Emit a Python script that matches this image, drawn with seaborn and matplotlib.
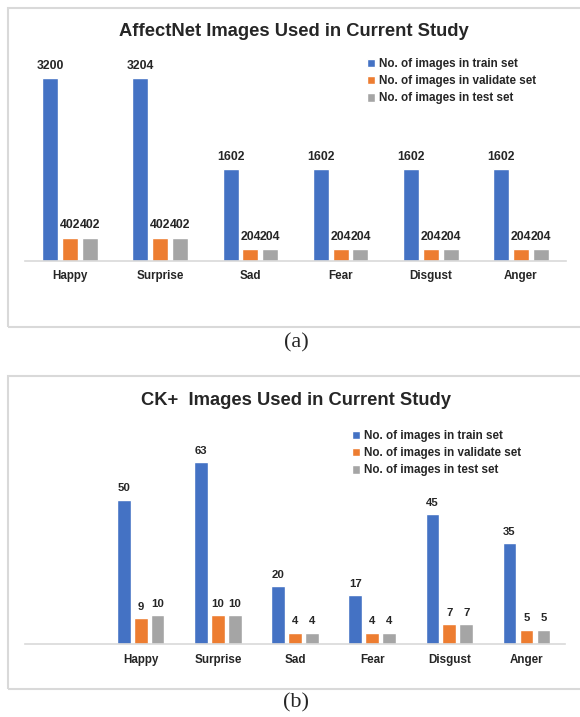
import matplotlib.pyplot as plt
import matplotlib.patches as mpatches
import pandas as pd
import seaborn as sns

# categories and series
emotions = ["Happy", "Surprise", "Sad", "Fear", "Disgust", "Anger"]
series_names = ["No. of images in train set",
                "No. of images in validate set",
                "No. of images in test set"]

# AffectNet counts
affect_train = [3200, 3204, 1602, 1602, 1602, 1602]
affect_val = [402, 402, 204, 204, 204, 204]
affect_test = [402, 402, 204, 204, 204, 204]

# CK+ counts
ck_train = [50, 63, 20, 17, 45, 35]
ck_val = [9, 10, 4, 4, 7, 5]
ck_test = [10, 10, 4, 4, 7, 5]

colors = ["#4472C4", "#ED7D31", "#A5A5A5"]

sns.set_theme(style="white")
plt.rcParams["font.family"] = ["Liberation Sans", "DejaVu Sans"]

W, H = 580, 717
fig = plt.figure(figsize=(W / 100, H / 100), dpi=100)


def to_long(train, val, test):
    rows = []
    for name, vals in zip(series_names, [train, val, test]):
        for emo, v in zip(emotions, vals):
            rows.append({"emotion": emo, "set": name, "count": v})
    return pd.DataFrame(rows)


def px_axes(left, top, right, bottom):
    return fig.add_axes([left / W, 1 - bottom / H, (right - left) / W, (bottom - top) / H])


def draw_panel(ax, df, order, ymax, label_size, legend_xy):
    sns.barplot(data=df, x="emotion", y="count", hue="set", order=order,
                hue_order=series_names, palette=colors, width=0.66, gap=0.2,
                saturation=1, errorbar=None, ax=ax)
    ax.set_ylim(0, ymax)
    ax.set_xlabel("")
    ax.set_ylabel("")
    ax.set_yticks([])
    for side in ["top", "left", "right"]:
        ax.spines[side].set_visible(False)
    ax.spines["bottom"].set_color("#D9D9D9")
    ax.spines["bottom"].set_linewidth(1.2)
    ax.tick_params(axis="x", length=0, pad=7, labelsize=8.4)
    for t in ax.get_xticklabels():
        t.set_fontweight("bold")
    for cont in ax.containers:
        ax.bar_label(cont, fmt="%g", padding=4.6, fontsize=label_size,
                     fontweight="bold")
    handles, labels = ax.get_legend_handles_labels()
    ax.legend(handles, labels, loc="upper left",
              bbox_to_anchor=(legend_xy[0] / W, 1 - legend_xy[1] / H),
              bbox_transform=fig.transFigure, frameon=False, borderpad=0,
              borderaxespad=0, handlelength=0.7, handleheight=0.7,
              handletextpad=0.3, labelspacing=0.45,
              prop={"size": 8.4, "weight": "bold"})
    ax.set_facecolor("none")


# panel (a)
ax_a = px_axes(25, 40, 566, 260.7)
draw_panel(ax_a, to_long(affect_train, affect_val, affect_test), emotions,
           3872, 8.8, (367, 58))
fig.text(294 / W, 1 - 31.7 / H, "AffectNet Images Used in Current Study",
         ha="center", va="center", fontsize=13.2, fontweight="bold")

# panel (b) with an empty first category slot
ax_b = px_axes(25, 420, 565, 644.3)
draw_panel(ax_b, to_long(ck_train, ck_val, ck_test), [""] + emotions,
           77.6, 8.2, (352, 430))
fig.text(296 / W, 1 - 400.7 / H, "CK+  Images Used in Current Study",
         ha="center", va="center", fontsize=13.2, fontweight="bold")

# panel borders
for top, bottom in [(7.5, 326.7), (376, 689)]:
    fig.patches.append(mpatches.Rectangle(
        (7.5 / W, 1 - bottom / H), 1.0, (bottom - top) / H,
        transform=fig.transFigure, fill=False, edgecolor="#D9D9D9", lw=1.5))

# captions
for label, y in [("(a)", 343.3), ("(b)", 703.3)]:
    fig.text(296 / W, 1 - y / H, label, ha="center", va="center",
             fontsize=16, family=["Liberation Serif", "DejaVu Serif"])

fig.savefig("out.png", dpi=100)
